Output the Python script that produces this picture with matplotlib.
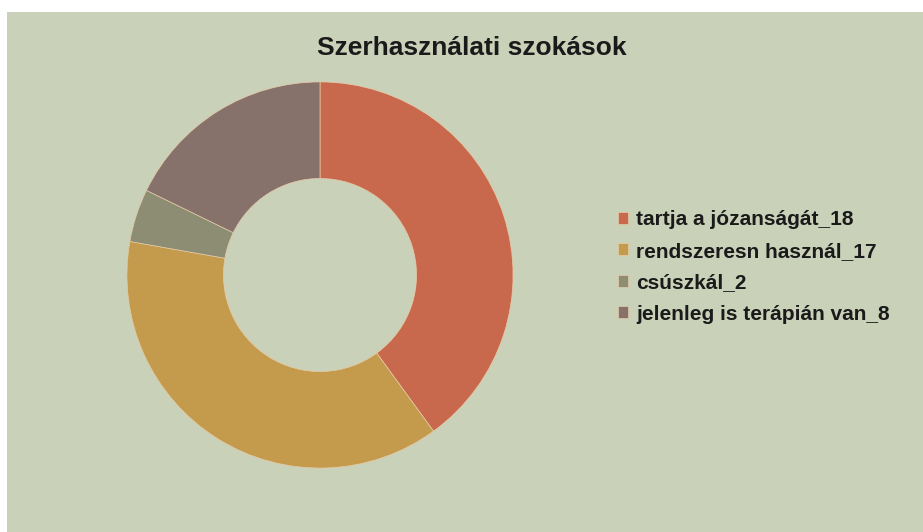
import matplotlib.pyplot as plt
from matplotlib.patches import Rectangle

labels = ['tartja a józanságát_18', 'rendszeresn használ_17', 'csúszkál_2', 'jelenleg is terápián van_8']
values = [18, 17, 2, 8]
colors = ['#C8694D', '#C49B4C', '#8D8D73', '#87716B']

W, H = 923, 532
fig = plt.figure(figsize=(W / 100, H / 100), dpi=100, facecolor='white')

# chart area panel, drawn behind everything
fig.patches.append(Rectangle((7 / W, 0), 1 - 7 / W, 1 - 12 / H, transform=fig.transFigure,
                             facecolor='#CAD1B9', edgecolor='none', zorder=-5))

cx, cy, r = 320, 275, 195
ax = fig.add_axes([(cx - r) / W, (H - cy - r) / H, 2 * r / W, 2 * r / H])
wedges, _ = ax.pie(values, colors=colors, startangle=90, counterclock=False,
                   wedgeprops=dict(width=0.5, edgecolor='#E6CBA8', linewidth=0.5))
ax.set_xlim(-1.01, 1.01)
ax.set_ylim(-1.01, 1.01)
ax.set_aspect('equal')
ax.axis('off')

fig.text(472 / W, 1 - 48 / H, 'Szerhasználati szokások', ha='center', va='center',
         fontsize=19, fontweight='bold', family='Liberation Sans', color='#1a1a1a')

fig.legend(wedges, labels, loc='center left', bbox_to_anchor=(599 / W, 1 - 267 / H),
           frameon=False, handlelength=0.5, handleheight=0.5, handletextpad=0.4,
           labelspacing=0.6, prop=dict(family='Liberation Sans', weight='bold', size=15),
           labelcolor='#1a1a1a')

fig.savefig('out.png', dpi=100)
